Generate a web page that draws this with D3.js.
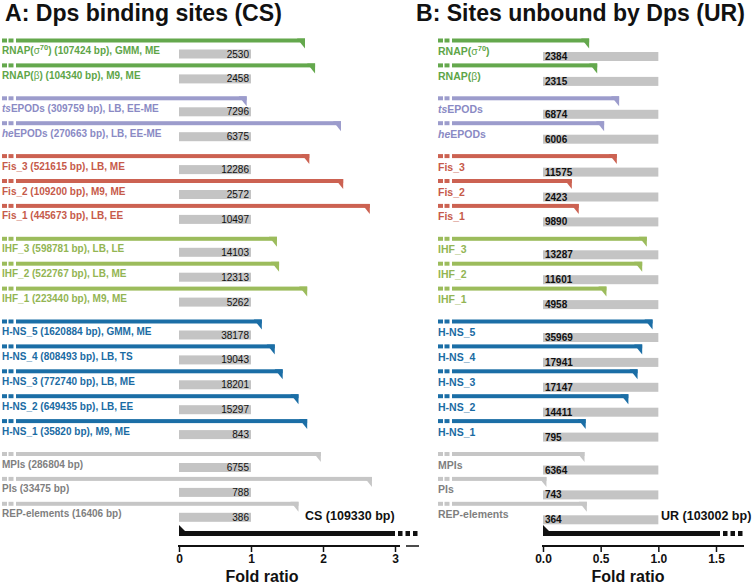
<!DOCTYPE html>
<html><head><meta charset="utf-8">
<script src="https://cdn.jsdelivr.net/npm/d3@7"></script>
<style>body{margin:0;background:#fff}svg{display:block}</style>
</head><body>
<svg id="chart" width="754" height="584"></svg>
<script>
const names = ["RNAP(σ70)", "RNAP(β)", "tsEPODs", "heEPODs", "Fis_3", "Fis_2", "Fis_1", "IHF_3", "IHF_2", "IHF_1", "H-NS_5", "H-NS_4", "H-NS_3", "H-NS_2", "H-NS_1", "MPIs", "PIs", "REP-elements"];
const sizesBp = ["107424", "104340", "309759", "270663", "521615", "109200", "445673", "598781", "522767", "223440", "1620884", "808493", "772740", "649435", "35820", "286804", "33475", "16406"];
const conditions = ["GMM, ME", "M9, ME", "LB, EE-ME", "LB, EE-ME", "LB, ME", "M9, ME", "LB, EE", "LB, LE", "LB, ME", "M9, ME", "GMM, ME", "LB, TS", "LB, ME", "LB, EE", "M9, ME", "", "", ""];
const groups = ["RNAP", "RNAP", "EPOD", "EPOD", "Fis", "Fis", "Fis", "IHF", "IHF", "IHF", "HNS", "HNS", "HNS", "HNS", "HNS", "Other", "Other", "Other"];
const foldCS = [1.75, 1.89, 0.94, 2.25, 1.81, 2.28, 2.65, 1.36, 1.39, 1.78, 1.15, 1.33, 1.44, 1.66, 1.78, 1.97, 2.68, 1.66];
const countCS = [2530, 2458, 7296, 6375, 12286, 2572, 10497, 14103, 12313, 5262, 38178, 19043, 18201, 15297, 843, 6755, 788, 386];
const foldUR = [0.40, 0.47, 0.66, 0.53, 0.64, 0.25, 0.31, 0.90, 0.86, 0.55, 0.95, 0.86, 0.82, 0.74, 0.37, 0.36, 0.03, 0.38];
const countUR = [2384, 2315, 6874, 6006, 11575, 2423, 9890, 13287, 11601, 4958, 35969, 17941, 17147, 14411, 795, 6364, 743, 364];
const ticksCS = [0, 1, 2, 3];
const ticksUR = [0, 0.5, 1.0, 1.5];
const totalCS = "CS (109330 bp)";
const totalUR = "UR (103002 bp)";

const barColors = {RNAP: "#64a84d", EPOD: "#9c9ccc", Fis: "#cc6252", IHF: "#9cbc5c", HNS: "#1b6ea6", Other: "#c6c6c6"};
const textColors = {RNAP: "#5ea548", EPOD: "#8a8ac4", Fis: "#c65a4a", IHF: "#93b553", HNS: "#1a6ba3", Other: "#7f7f7f"};

const svg = d3.select("#chart");
const groupOrder = Array.from(new Set(groups));
const rowY = i => 38.5 + i * 24.9 + groupOrder.indexOf(groups[i]) * 8;

const xA = d3.scaleLinear().domain([0, 3]).range([179, 395]);
const xB = d3.scaleLinear().domain([0, 1.5]).range([543, 716]);

const FONT = "'Liberation Sans', Arial, Helvetica, sans-serif";

function writeName(textSel, name) {
  if (name.startsWith("RNAP(σ")) {
    textSel.append("tspan").text("RNAP(");
    textSel.append("tspan").attr("font-weight", "normal").text("σ");
    textSel.append("tspan").attr("dy", -4).attr("font-size", "7.5px").text("70");
    textSel.append("tspan").attr("dy", 4).text(")");
  } else if (name.startsWith("RNAP(β")) {
    textSel.append("tspan").text("RNAP(");
    textSel.append("tspan").attr("font-weight", "normal").text("β");
    textSel.append("tspan").text(")");
  } else if (name === "tsEPODs" || name === "heEPODs") {
    textSel.append("tspan").attr("font-style", "italic").text(name.slice(0, 2));
    textSel.append("tspan").text(name.slice(2));
  } else {
    textSel.append("tspan").text(name);
  }
}

function drawPanel(opts) {
  const {x, fold, counts, barStart, dashStart, labelX, full, grayOff, labelOff, numOff, numAnchor, numX, numWeight, labelSize} = opts;
  const g = svg.append("g");
  names.forEach((n, i) => {
    const y = rowY(i);
    const c = barColors[groups[i]];
    g.append("rect").attr("x", dashStart).attr("y", y).attr("width", 5).attr("height", 4).attr("fill", c);
    g.append("rect").attr("x", dashStart + 6.5).attr("y", y).attr("width", 5).attr("height", 4).attr("fill", c);
    const xe = x(fold[i]);
    g.append("rect").attr("x", barStart).attr("y", y).attr("width", Math.max(0, xe - barStart)).attr("height", 4).attr("fill", c);
    g.append("path").attr("d", `M${xe - 8},${y} L${xe},${y} L${xe},${y + 10} Z`).attr("fill", c);
    const t = g.append("text").attr("x", labelX).attr("y", y + labelOff)
      .attr("font-family", FONT).attr("font-size", labelSize).attr("font-weight", "bold")
      .attr("fill", textColors[groups[i]]);
    writeName(t, n);
    if (full) {
      let rest = " (" + sizesBp[i] + " bp)";
      if (conditions[i]) rest += ", " + conditions[i];
      t.append("tspan").text(rest);
    }
    g.append("rect").attr("x", x(0)).attr("y", y + grayOff).attr("width", x(1) - x(0)).attr("height", 9).attr("fill", "#c4c4c4");
    g.append("text").attr("x", numX).attr("y", y + numOff).attr("text-anchor", numAnchor)
      .attr("font-family", FONT).attr("font-size", "10px").attr("font-weight", numWeight)
      .attr("fill", "#111").text(counts[i]);
  });
}

drawPanel({x: xA, fold: foldCS, counts: countCS, barStart: 16, dashStart: 2, labelX: 2, full: true, labelSize: "10px",
  grayOff: 11, labelOff: 15.5, numOff: 19, numAnchor: "end", numX: 249, numWeight: "normal"});
drawPanel({x: xB, fold: foldUR, counts: countUR, barStart: 452, dashStart: 438, labelX: 438, full: false, labelSize: "10.5px",
  grayOff: 13.5, labelOff: 16.5, numOff: 21.5, numAnchor: "start", numX: 545, numWeight: "bold"});

// Titles (condensed by horizontal scaling)
function title(x, w, s) {
  const g = svg.append("g");
  const t = g.append("text").attr("x", 0).attr("y", 0).attr("font-family", FONT)
    .attr("font-size", "24px").attr("font-weight", "bold").attr("fill", "#111").text(s);
  const natural = t.node().getComputedTextLength();
  g.attr("transform", `translate(${x},21) scale(${w / natural},1)`);
}
title(5, 277, "A: Dps binding sites (CS)");
title(416, 329, "B: Sites unbound by Dps (UR)");

function refBar(x, solidEnd, totalText, textX) {
  const y0 = 531;
  svg.append("path").attr("d", `M${x(0)},${y0 - 6} L${x(0)},${y0 + 5} L${x(0) + 11},${y0 + 5} Z`).attr("fill", "#111");
  svg.append("rect").attr("x", x(0)).attr("y", y0).attr("width", solidEnd - x(0)).attr("height", 5).attr("fill", "#111");
  [0, 1, 2].forEach(k => svg.append("rect").attr("x", solidEnd + 3 + k * 7.5).attr("y", y0).attr("width", 4.5).attr("height", 5).attr("fill", "#111"));
  svg.append("text").attr("x", textX).attr("y", 520).attr("font-family", FONT).attr("font-size", "12.5px")
    .attr("font-weight", "bold").attr("fill", "#111").text(totalText);
}
refBar(xA, 395, totalCS, 305);
refBar(xB, 720, totalUR, 661);

function drawAxis(x, ticks, fmt, lineEnd, titleX) {
  const ax = svg.append("g").attr("transform", "translate(0,546)")
    .call(d3.axisBottom(x).tickValues(ticks).tickFormat(fmt).tickSize(6).tickSizeOuter(0));
  ax.select(".domain").remove();
  ax.append("line").attr("x1", x(0) - 1).attr("x2", lineEnd).attr("y1", 0).attr("y2", 0).attr("stroke", "#111").attr("stroke-width", 2);
  ax.selectAll(".tick line").attr("stroke", "#111").attr("stroke-width", 1.5);
  ax.selectAll(".tick text").attr("font-family", FONT).attr("font-size", "12px").attr("font-weight", "bold").attr("fill", "#111").attr("dy", "0.65em");
  svg.append("text").attr("x", titleX).attr("y", 582).attr("text-anchor", "middle").attr("font-family", FONT)
    .attr("font-size", "16px").attr("font-weight", "bold").attr("fill", "#111").text("Fold ratio");
}
drawAxis(xA, ticksCS, d3.format("d"), 400, 262);
drawAxis(xB, ticksUR, d3.format(".1f"), 744, 628);
svg.append("line").attr("x1", 406).attr("x2", 419).attr("y1", 546).attr("y2", 546).attr("stroke", "#111").attr("stroke-width", 1.5);
</script>
</body></html>
